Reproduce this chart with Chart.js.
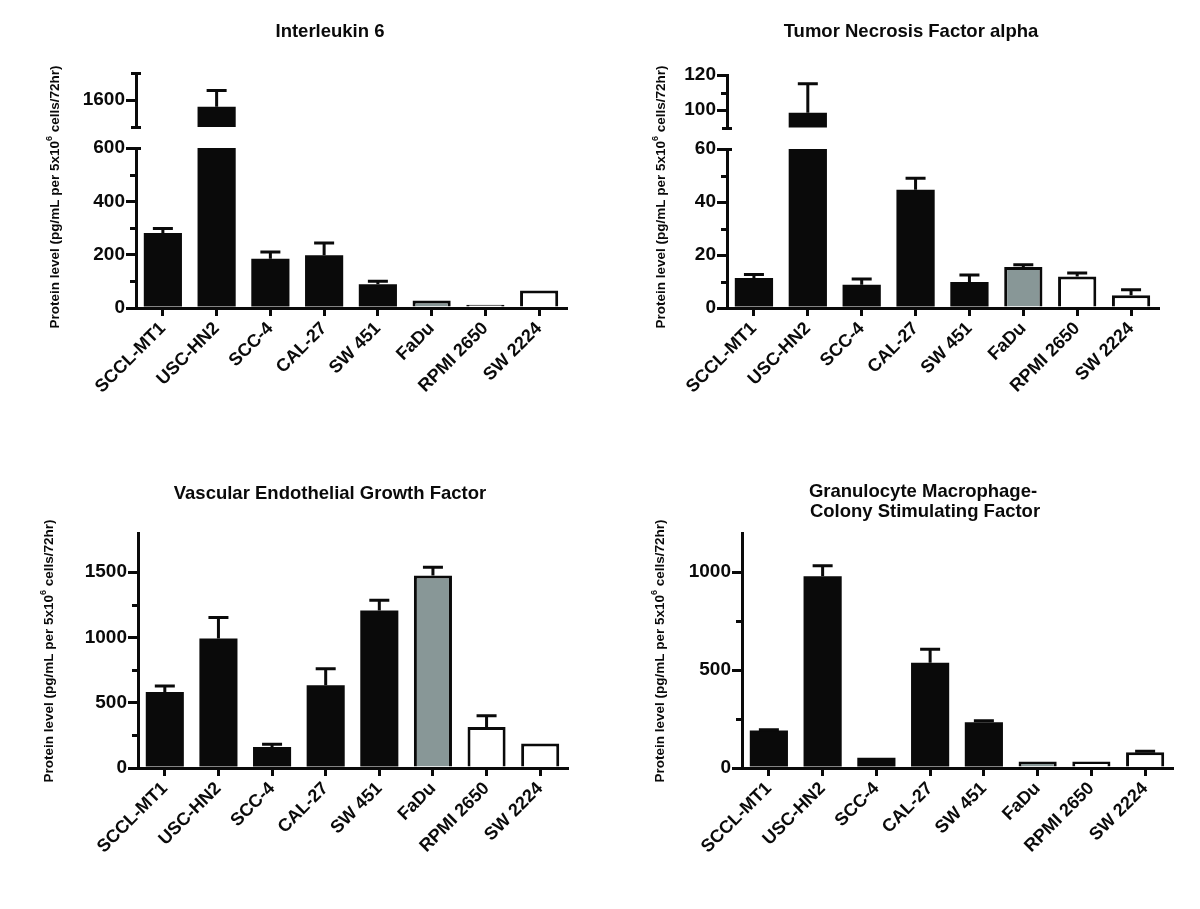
<!DOCTYPE html>
<html><head><meta charset="utf-8">
<script src="https://cdn.jsdelivr.net/npm/chart.js@4.4.0/dist/chart.umd.min.js"></script>
<style>
html,body{margin:0;padding:0;background:#fff;}
#wrap{position:relative;width:1200px;height:909px;overflow:hidden;background:#fff;}
#wrap canvas{position:absolute;}
</style></head><body><div id="wrap"></div>
<script>
// ---------- data ----------
const categories = ['SCCL-MT1', 'USC-HN2', 'SCC-4', 'CAL-27', 'SW 451', 'FaDu', 'RPMI 2650', 'SW 2224'];

const il6Values = [281, 1575, 185, 198, 89, 28, 12, 66];
const il6Errors = [17, 60, 25, 46, 11, 0, 0, 0];
const il6LowerRange = [0, 600];
const il6UpperRange = [1500, 1700];
const il6LowerTicks = [0, 200, 400, 600];
const il6LowerMinor = [100, 300, 500];
const il6UpperTicks = [1600];

const tnfValues = [11.3, 98.5, 8.8, 44.6, 9.8, 15.5, 11.9, 4.8];
const tnfErrors = [1.3, 16.5, 2.1, 4.4, 2.7, 0.8, 1.3, 2.1];
const tnfLowerRange = [0, 60];
const tnfUpperRange = [90, 120];
const tnfLowerTicks = [0, 20, 40, 60];
const tnfLowerMinor = [10, 30, 50];
const tnfUpperTicks = [100, 120];
const tnfUpperMinor = [110];

const vegfValues = [582, 991, 161, 633, 1207, 1475, 314, 187];
const vegfErrors = [46, 161, 20, 128, 77, 62, 87, 0];
const vegfRange = [0, 1800];
const vegfTicks = [0, 500, 1000, 1500];
const vegfMinor = [250, 750, 1250];

const gmcsfValues = [191, 979, 52, 538, 233, 33, 33, 80];
const gmcsfErrors = [4, 54, 0, 68, 8, 0, 0, 5];
const gmcsfRange = [0, 1200];
const gmcsfTicks = [0, 500, 1000];
const gmcsfMinor = [250, 750];

const panelTitles = [
  ['Interleukin 6'],
  ['Tumor Necrosis Factor alpha'],
  ['Vascular Endothelial Growth Factor'],
  ['Granulocyte Macrophage-', 'Colony Stimulating Factor']
];
const yTitleParts = ['Protein level (pg/mL per 5x10', '6', ' cells/72hr)'];

// ---------- styles ----------
const INK = '#0a0a0a';
const GREY = '#889797';
const WHITE = '#ffffff';
const barFill = [INK, INK, INK, INK, INK, GREY, WHITE, WHITE];
const barBorder = [0, 0, 0, 0, 0, 3, 3, 3];
const FONT = "'Liberation Sans', Arial, Helvetica, sans-serif";

const decorPlugin = {
  id: 'decor',
  afterDatasetsDraw(chart, args, o) {
    const ctx = chart.ctx, a = chart.chartArea, ys = chart.scales.y;
    const meta = chart.getDatasetMeta(0);
    if (o.values && o.errors) {
      ctx.save();
      ctx.beginPath();
      ctx.rect(a.left, a.top - 2, a.right - a.left, a.bottom - a.top + 2);
      ctx.clip();
      ctx.strokeStyle = INK; ctx.lineWidth = 3; ctx.lineCap = 'butt';
      o.values.forEach((v, i) => {
        const e = o.errors[i];
        if (!e) return;
        const x = meta.data[i].x;
        const y0 = ys.getPixelForValue(v), y1 = ys.getPixelForValue(v + e);
        ctx.beginPath();
        ctx.moveTo(x, y0); ctx.lineTo(x, y1);
        ctx.moveTo(x - 10, y1); ctx.lineTo(x + 10, y1);
        ctx.stroke();
      });
      ctx.restore();
    }
  },
  afterDraw(chart, args, o) {
    const ctx = chart.ctx, a = chart.chartArea, ys = chart.scales.y;
    ctx.save();
    ctx.strokeStyle = INK; ctx.lineWidth = 3; ctx.lineCap = 'butt';
    (o.minor || []).forEach(v => {
      const y = Math.round(ys.getPixelForValue(v)) + 0.5;
      ctx.beginPath(); ctx.moveTo(a.left - 6, y); ctx.lineTo(a.left, y); ctx.stroke();
    });
    (o.breaks || []).forEach(v => {
      const y = Math.round(ys.getPixelForValue(v)) + 0.5;
      ctx.beginPath(); ctx.moveTo(a.left - 5, y); ctx.lineTo(a.left + 5, y); ctx.stroke();
    });
    ctx.fillStyle = INK;
    (o.titles || []).forEach(t => {
      ctx.font = 'bold 18.5px ' + FONT;
      ctx.textAlign = 'center'; ctx.textBaseline = 'alphabetic';
      ctx.fillText(t.text, t.x - o.ox, t.y - o.oy);
    });
    if (o.yTitle) {
      const mainFont = 'bold 13.5px ' + FONT, supFont = 'bold 9px ' + FONT;
      ctx.font = mainFont; const w1 = ctx.measureText(yTitleParts[0]).width, w3 = ctx.measureText(yTitleParts[2]).width;
      ctx.font = supFont; const w2 = ctx.measureText(yTitleParts[1]).width;
      const total = w1 + w2 + w3;
      ctx.translate(o.yTitle.x - o.ox, o.yTitle.y - o.oy);
      ctx.rotate(-Math.PI / 2);
      ctx.textAlign = 'left'; ctx.textBaseline = 'middle';
      let x = -total / 2;
      ctx.font = mainFont; ctx.fillText(yTitleParts[0], x, 0); x += w1;
      ctx.font = supFont; ctx.fillText(yTitleParts[1], x, -5); x += w2;
      ctx.font = mainFont; ctx.fillText(yTitleParts[2], x, 0);
    }
    ctx.restore();
  }
};

const wrap = document.getElementById('wrap');

function makeChart(p) {
  const c = document.createElement('canvas');
  c.width = p.w; c.height = p.h;
  c.style.left = p.left + 'px'; c.style.top = p.top + 'px';
  c.style.width = p.w + 'px'; c.style.height = p.h + 'px';
  wrap.appendChild(c);
  const area = p.area;
  return new Chart(c, {
    type: 'bar',
    data: {
      labels: categories,
      datasets: [{
        data: p.values,
        backgroundColor: barFill,
        borderColor: INK,
        borderWidth: barBorder,
        borderSkipped: 'start',
        barPercentage: 0.71,
        categoryPercentage: 1,
        clip: 0
      }]
    },
    options: {
      responsive: false,
      animation: false,
      devicePixelRatio: 1,
      layout: {
        padding: {
          top: area.top - p.top,
          right: p.left + p.w - area.right,
          bottom: p.showX ? 0 : p.top + p.h - area.bottom,
          left: 0
        }
      },
      plugins: {
        legend: { display: false },
        tooltip: { enabled: false },
        title: { display: false },
        decor: {
          ox: p.left, oy: p.top,
          values: p.values, errors: p.errors,
          minor: p.minor, breaks: p.breaks,
          titles: p.titles, yTitle: p.yTitle
        }
      },
      scales: {
        x: {
          display: p.showX,
          offset: true,
          grid: { offset: false, drawOnChartArea: false, drawTicks: true, tickLength: 8, tickWidth: 3, tickColor: INK, color: INK, lineWidth: 3 },
          border: { display: true, width: 3, color: INK },
          ticks: { color: INK, font: { family: FONT, size: 18, weight: 'bold' }, minRotation: 45, maxRotation: 45, padding: 2, autoSkip: false },
          afterFit: s => { s.height = p.showX ? p.top + p.h - area.bottom : 0; }
        },
        y: {
          min: p.range[0], max: p.range[1],
          grid: { drawOnChartArea: false, drawTicks: true, tickLength: 10, tickWidth: 3, tickColor: INK, color: INK, lineWidth: 3 },
          border: { display: true, width: 3, color: INK },
          ticks: { color: INK, font: { family: FONT, size: 19, weight: 'bold' }, padding: 1, callback: v => String(v) },
          afterBuildTicks: s => { s.ticks = p.ticks.map(v => ({ value: v })); },
          afterFit: s => { s.width = area.left - p.left; }
        }
      }
    },
    plugins: [decorPlugin]
  });
}

// Panel 1: Interleukin 6 (broken axis)
makeChart({ left: 0, top: 0, w: 600, h: 140, area: { left: 136, right: 566, top: 73, bottom: 127 },
  values: il6Values, errors: il6Errors, range: il6UpperRange, ticks: il6UpperTicks,
  breaks: il6UpperRange, showX: false });
makeChart({ left: 0, top: 0, w: 600, h: 430, area: { left: 136, right: 566, top: 148, bottom: 308 },
  values: il6Values, errors: il6Errors, range: il6LowerRange, ticks: il6LowerTicks,
  minor: il6LowerMinor, breaks: [il6LowerRange[1]], showX: true,
  titles: [{ text: panelTitles[0][0], x: 330, y: 37 }], yTitle: { x: 55, y: 197 } });

// Panel 2: TNF alpha (broken axis)
makeChart({ left: 600, top: 0, w: 600, h: 140, area: { left: 727, right: 1158, top: 75, bottom: 128 },
  values: tnfValues, errors: tnfErrors, range: tnfUpperRange, ticks: tnfUpperTicks,
  minor: tnfUpperMinor, breaks: [tnfUpperRange[0]], showX: false });
makeChart({ left: 600, top: 0, w: 600, h: 430, area: { left: 727, right: 1158, top: 149, bottom: 308 },
  values: tnfValues, errors: tnfErrors, range: tnfLowerRange, ticks: tnfLowerTicks,
  minor: tnfLowerMinor, breaks: [tnfLowerRange[1]], showX: true,
  titles: [{ text: panelTitles[1][0], x: 911, y: 37 }], yTitle: { x: 661, y: 197 } });

// Panel 3: VEGF
makeChart({ left: 0, top: 440, w: 600, h: 469, area: { left: 138, right: 567, top: 533, bottom: 768 },
  values: vegfValues, errors: vegfErrors, range: vegfRange, ticks: vegfTicks,
  minor: vegfMinor, showX: true,
  titles: [{ text: panelTitles[2][0], x: 330, y: 499 }], yTitle: { x: 49, y: 651 } });

// Panel 4: GM-CSF
makeChart({ left: 600, top: 440, w: 600, h: 469, area: { left: 742, right: 1172, top: 533, bottom: 768 },
  values: gmcsfValues, errors: gmcsfErrors, range: gmcsfRange, ticks: gmcsfTicks,
  minor: gmcsfMinor, showX: true,
  titles: [{ text: panelTitles[3][0], x: 923, y: 497 }, { text: panelTitles[3][1], x: 925, y: 517 }],
  yTitle: { x: 660, y: 651 } });
</script>
</body></html>
